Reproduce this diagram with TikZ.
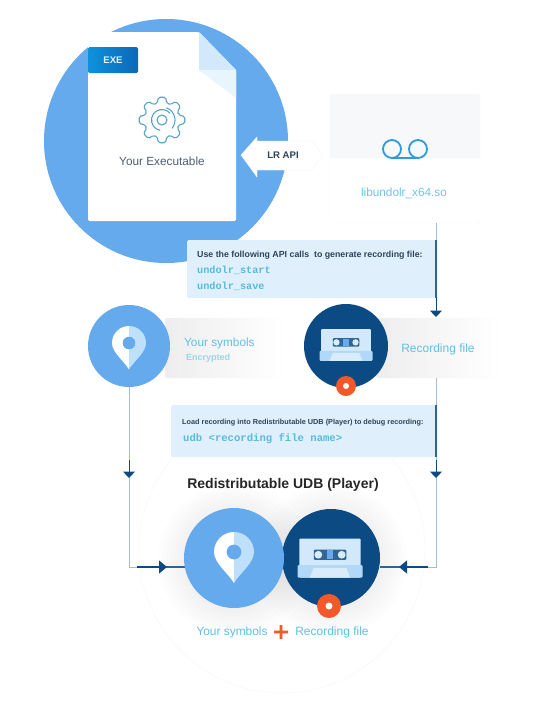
\documentclass[tikz,border=0pt]{standalone}
\usepackage{fontspec}
\setmainfont{Liberation Sans}
\setmonofont{Liberation Mono}
\usetikzlibrary{arrows.meta,calc}
\definecolor{skyb}{HTML}{65AAEC}
\definecolor{navy}{HTML}{0C4A84}
\definecolor{boxb}{HTML}{DFF0FC}
\definecolor{cyant}{HTML}{62BFE2}
\definecolor{lineg}{HTML}{A9BDD0}
\definecolor{lined}{HTML}{2F6595}
\definecolor{orng}{HTML}{F1592A}
\definecolor{pale}{HTML}{BFE0FA}
\definecolor{inkd}{HTML}{2F4358}
\definecolor{exeL}{HTML}{0E92DC}
\definecolor{exeR}{HTML}{0B68B8}
\definecolor{gearc}{HTML}{5AA3C8}
\definecolor{reelc}{HTML}{2E9BDC}
\definecolor{cardg}{HTML}{F7F8FA}
\definecolor{codec}{HTML}{5CB9DA}
\tikzset{
  x=1pt,y=-1pt,
  disc/.style={circle,inner sep=0pt,minimum size=#1},
  panel/.style={draw=black!2,rounded corners=2pt,left color=black!7,middle color=black!1,right color=white},
  infobox/.style={fill=boxb,rounded corners=1.5pt},
  flow/.style={draw=lineg,line width=1pt},
  flowdark/.style={draw=lined,line width=1.1pt},
  headv/.style={-{Triangle[length=6.5pt,width=12pt]},draw=navy,line width=1pt},
  headh/.style={-{Triangle[length=8pt,width=13pt]},draw=navy,line width=1.3pt},
  lbl/.style={inner sep=0pt,anchor=center},
  lblw/.style={inner sep=0pt,anchor=west},
  pics/pinmark/.style={code={
    \fill[white] (0,-1) arc[start angle=-90,end angle=-180,radius=1] .. controls (-1,0.55) and (-0.3,1.05) .. (0,1.55) -- cycle;
    \fill[pale] (0,-1) arc[start angle=-90,end angle=0,radius=1] .. controls (1,0.55) and (0.3,1.05) .. (0,1.55) -- cycle;
    \fill[skyb] (0,0) circle[radius=0.37];
  }},
  pics/tapemark/.style={code={
    \fill[pale!70!white,rounded corners=1pt] (-0.94,-0.6) rectangle (0.94,0.6);
    \fill[pale!85!skyb,rounded corners=1pt] (-1,0.22) -- (1,0.22) -- (1,0.6) -- (-1,0.6) -- cycle;
    \fill[pale!60!white] (-0.62,0.6) -- (-0.5,0.3) -- (0.5,0.3) -- (0.62,0.6) -- cycle;
    \fill[navy!85!white,rounded corners=1pt] (-0.5,-0.26) rectangle (0.5,0.06);
    \fill[pale!60!white] (-0.36,-0.1) circle[radius=0.12] (0.36,-0.1) circle[radius=0.12];
    \fill[skyb] (-0.1,-0.24) rectangle (0.1,0.04);
  }},
  pics/gearmark/.style={code={
    \draw[draw=gearc,line width=1.1pt,line join=round,rounded corners=1.6pt]
      (-16:17.5)
      \foreach \a in {0,45,...,315}{
        -- ({\a-16}:17.5) -- ({\a-9}:23) -- ({\a+9}:23) -- ({\a+16}:17.5)
      } -- cycle;
    \draw[draw=gearc,line width=1.1pt] (0,0) circle[radius=5];
    \draw[draw=gearc,line width=1.1pt] (100:10.5) arc[start angle=100,end angle=320,radius=10.5];
    \draw[draw=gearc,line width=1.1pt] (-70:13) arc[start angle=-70,end angle=40,radius=13];
  }},
}
\begin{document}
\begin{tikzpicture}
\useasboundingbox[fill=white] (0,0) rectangle (550,726);

% faint large circle
\node[disc=286pt,draw=black!3,fill=white] (stage) at (282,550) {};

% soft shadow behind the player discs
\foreach \r in {76,72,...,52}{
  \fill[black,opacity=0.008] (234,560) circle[radius=\r];
  \fill[black,opacity=0.008] (331,560) circle[radius=\r];
}

% top disc
\node[disc=244pt,fill=skyb] (bigdisc) at (166,141) {};

% executable
\fill[white,rounded corners=1.5pt] (88,32) -- (199,32) -- (236,70) -- (236,221) -- (88,221) -- cycle;
\fill[pale!70!white] (199,32) -- (199,70) -- (236,70) -- cycle;
\fill[boxb!70!white] (199,70) -- (236,70) -- (236,98) -- cycle;
\node[inner sep=0pt,minimum width=50pt,minimum height=26pt,rounded corners=1.5pt,left color=exeL,right color=exeR,text=boxb,font=\bfseries\fontsize{9.6}{12}\selectfont] (exe) at (113,60) {EXE};
\pic at (162,120) {gearmark};
\node[lbl,text=inkd!85!white,font=\fontsize{11.8}{13}\selectfont] (exeName) at (162,161.5) {Your Executable};

% library card
\fill[white,draw=black!2,rounded corners=3pt] (330,94) rectangle (480,223);
\fill[cardg,rounded corners=3pt] (330,94) rectangle (480,158);
\fill[cardg] (330,110) rectangle (480,158);
\node[inner sep=0pt,minimum width=150pt,minimum height=129pt] (lib) at (405,158.5) {};
\draw[draw=reelc,line width=1.8pt] (392,149) circle[radius=9] (418,149) circle[radius=9];
\draw[draw=reelc,line width=1.8pt] (392,158) -- (418,158);
\node[lbl,text=cyant!90!white,font=\fontsize{11.8}{13}\selectfont] (libName) at (404,193) {libundolr\_x64.so};

% LR API arrow
\fill[white,draw=black!3] (241,155) -- (257,137) -- (257,141) -- (312,141) -- (323,155) -- (312,170) -- (257,170) -- (257,177) -- cycle;
\node[lbl,text=inkd,font=\bfseries\fontsize{9.6}{11}\selectfont] (api) at (283,155.5) {LR API};

\coordinate (drop1) at (436,317);
\coordinate (joinL) at (129,567);
\coordinate (joinR) at (436,567);

% instruction box 1
\fill[infobox] (187,240) rectangle (436,298);
\node[lblw,text=inkd,font=\bfseries\fontsize{8.8}{10}\selectfont] (use) at (197,255.5) {Use the following API calls\ \ to generate recording file:};
\node[lblw,text=codec,font=\ttfamily\bfseries\fontsize{10.2}{12}\selectfont] (call1) at (197,270) {undolr\_start};
\node[lblw,text=codec,font=\ttfamily\bfseries\fontsize{10.2}{12}\selectfont] (call2) at (197,286) {undolr\_save};
\draw[flow] (lib.south -| drop1) -- ($(lib.south -| drop1)+(0,17)$);
\draw[flowdark] ($(lib.south -| drop1)+(0,17)$) -- (436,298);
\draw[headv] (436,298) -- (drop1);

% row of panels
\draw[panel] (165,318) rectangle (281,378);
\draw[panel] (376,318) rectangle (497,378);
\node[disc=82pt,fill=skyb] (pinA) at (129,346) {};
\pic[scale=17] at (129,343) {pinmark};
\node[disc=84pt,fill=navy] (tapeA) at (346,346) {};
\pic[scale=26.5] at (346,345) {tapemark};
\node[disc=20pt,fill=orng] (dotA) at (346,386) {};
\fill[white] (dotA) circle[radius=3];
\node[lblw,text=cyant,font=\fontsize{11.8}{13}\selectfont] (symA) at (184,343) {Your symbols};
\node[lblw,text=cyant!65!white,font=\bfseries\fontsize{9}{10}\selectfont] (encr) at (186,358) {Encrypted};
\node[lbl,text=cyant,font=\fontsize{12}{13}\selectfont] (recA) at (438,349) {Recording file};

% connectors to the player
\node[disc=98pt] (pinB) at (234,558) {};
\node[disc=98pt] (tapeB) at (331,558) {};
\draw[flow] (pinA.south) -- (joinL) -- (joinL -| pinB.west);
\draw[flow] (436,378) -- (joinR) -- (joinR -| tapeB.east);
\draw[headv] (129,460) -- (129,478);
\draw[headv] (436,460) -- (436,478);
\draw[flowdark] (158,567) -- (joinL -| pinB.west);
\draw[headh] (137,567) -- (167,567);
\draw[flowdark] (408,567) -- (joinR -| tapeB.east);
\draw[headh] (428,567) -- (399,567);

% instruction box 2
\fill[infobox] (171,405) rectangle (436,457);
\draw[flowdark] (436,405) -- (436,457);
\node[lblw,text=inkd,font=\bfseries\fontsize{7.3}{9}\selectfont] (load) at (182,423) {Load recording into Redistributable UDB (Player) to debug recording:};
\node[lblw,text=codec,font=\ttfamily\bfseries\fontsize{10.6}{12}\selectfont] (udb) at (183,439) {udb <recording file name>};

% player
\node[lbl,text=black!85,font=\bfseries\fontsize{14}{16}\selectfont] (title) at (283,484.5) {Redistributable UDB (Player)};
\fill[navy] (tapeB) circle[radius=49];
\fill[skyb] (pinB) circle[radius=50];
\pic[scale=20] at (234,552) {pinmark};
\pic[scale=32.5] at (330,558) {tapemark};
\node[disc=24pt,fill=orng] (dotB) at (329,606) {};
\fill[white] (dotB) circle[radius=3.5];
\node[lbl,text=cyant,font=\fontsize{11.9}{13}\selectfont] (symB) at (232,632) {Your symbols};
\node[lbl,text=cyant,font=\fontsize{12}{13}\selectfont] (recB) at (332,632) {Recording file};
\fill[orng] (274,630.6) rectangle (288,633.4) (279.6,625) rectangle (282.4,639);
\end{tikzpicture}
\end{document}
